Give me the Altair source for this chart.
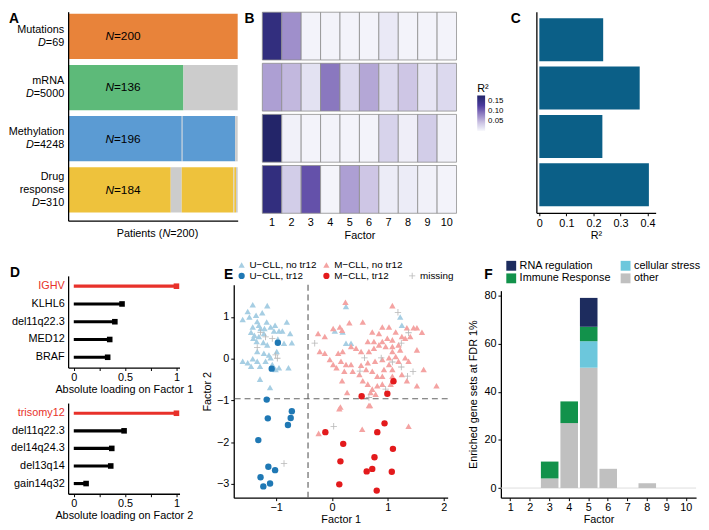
import altair as alt
import pandas as pd

FONT = "Liberation Sans"
RED = "#e8312a"

# ---------------- Panel A data ----------------
views = ["Mutations", "mRNA", "Methylation", "Drug response"]
view_lines = [["Mutations"], ["mRNA"], ["Methylation"], ["Drug", "response"]]
view_D = [69, 5000, 4248, 310]
view_N = [200, 136, 196, 184]
view_colors = ["#e8833a", "#5dba79", "#5b9bd3", "#eec23c"]
missing_color = "#cccccc"
# patient segments per view: (first patient, last patient, observed flag)
segs = {
    "Mutations": [(0, 200, 1)],
    "mRNA": [(0, 136, 1), (136, 200, 0)],
    "Methylation": [(0, 134, 1), (134, 135, 0), (135, 197, 1), (197, 200, 0)],
    "Drug response": [(0, 121, 1), (121, 134, 0), (134, 195, 1), (195, 196, 0), (196, 198, 1), (198, 200, 0)],
}

# ---------------- Panel B data ----------------
factors = list(range(1, 11))
r2_mut = [0.16, 0.075, 0.004, 0.004, 0.004, 0.004, 0.012, 0.004, 0.004, 0.004]
r2_mrna = [0.065, 0.05, 0.018, 0.09, 0.025, 0.06, 0.025, 0.04, 0.015, 0.025]
r2_meth = [0.18, 0.006, 0.004, 0.004, 0.004, 0.004, 0.03, 0.008, 0.035, 0.006]
r2_drug = [0.16, 0.035, 0.115, 0.003, 0.065, 0.04, 0.01, 0.01, 0.006, 0.004]

# ---------------- Panel C data ----------------
r2_total = [0.236, 0.371, 0.233, 0.405]

# ---------------- Panel D data ----------------
d1_feat = ["IGHV", "KLHL6", "del11q22.3", "MED12", "BRAF"]
d1_val = [1.0, 0.47, 0.40, 0.35, 0.33]
d2_feat = ["trisomy12", "del11q22.3", "del14q24.3", "del13q14", "gain14q32"]
d2_val = [1.0, 0.49, 0.37, 0.36, 0.12]

# ---------------- Panel E data ----------------
E_groups = ["U−CLL, no tr12", "M−CLL, no tr12", "_", "U−CLL, tr12", "M−CLL, tr12", "missing"]
E_colors = ["#a6cee3", "#f4a3a2", "transparent", "#1f78b4", "#e31a1c", "#b8b8b8"]
ub_x = [-1.42, -1.16, -1.51, -1.60, -1.48, -1.36, -1.25, -1.34, -1.42, -1.45, -1.31, -1.28, -1.21, -1.17,
        -1.10, -1.02, -0.95, -0.89, -1.04, -0.72, -0.86, -1.16, -1.23, -1.35, -1.41, -1.31, -1.22, -1.60,
        -1.51, -1.42, -1.34, -1.45, -1.29, -1.19, -1.10, -1.07, -0.95, -0.78, -1.01, -1.13, -1.34, -1.22,
        -0.99, -1.29, -1.11, -0.97, -1.39, -0.81, -0.75, 0.25, 0.05, 0.19, 0.25, 0.34, 1.25, 1.22]
ub_y = [1.29, 1.27, 1.13, 0.94, 1.00, 1.04, 1.10, 0.89, 0.76, 0.63, 0.80, 0.72, 0.72, 0.88,
        0.76, 0.80, 0.66, 0.66, 0.66, 0.38, 0.37, 0.33, 0.39, 0.41, 0.49, 0.53, 0.60, -0.06,
        -0.10, 0.00, -0.06, -0.18, -0.18, -0.06, 0.02, -0.14, -0.22, -0.22, -0.26, 0.09, 0.17, 0.13,
        0.17, -0.49, -0.69, 0.47, 0.56, 0.88, 0.60, 1.25, 0.66, 0.64, 0.37, 0.37, 0.80, 1.00]
mp_x = [0.24, 1.08, 0.55, 0.31, 0.14, 0.18, -0.25, -0.13, 0.02, 0.72, 0.84, 0.90, 1.02, 1.14, 1.25, 1.34,
        1.46, 1.52, 1.61, 0.64, 0.75, 0.90, 0.99, 1.08, 1.31, 1.40, 1.52, 1.22, 1.08, 0.96, 0.84, 0.75,
        0.66, 0.52, 0.43, 0.34, 0.19, 0.11, 0.16, 0.02, 0.08, 0.25, 0.34, 0.52, 0.64, 0.77, 0.90, 1.02,
        1.14, 1.31, 1.37, 1.19, 1.08, 0.93, 0.72, 0.61, 0.49, 0.37, 0.22, -0.04, -0.22, -0.13, 0.90, 1.08,
        1.64, 1.87, 1.52, 1.34, 1.25, 0.72, 0.69, 0.78, 0.55, 0.18, 0.27, 0.15, 0.66, 1.37, 0.54, -0.24,
        0.81, 0.90, 1.05, 0.64, 0.81, 1.02, 1.08, 1.19, 0.13, 0.68]
mp_y = [1.35, 1.27, 0.88, 0.86, 0.76, 0.68, 0.60, 0.53, 0.72, 0.64, 0.60, 0.76, 0.76, 0.64, 0.53, 0.74,
        0.74, 0.74, 0.63, 0.41, 0.41, 0.41, 0.49, 0.45, 0.49, 0.53, 0.21, 0.21, 0.29, 0.29, 0.33, 0.25,
        0.17, 0.17, 0.25, 0.29, 0.17, 0.13, -0.06, -0.14, -0.22, -0.14, -0.14, -0.16, -0.10, -0.06, -0.02, 0.02,
        0.05, 0.02, -0.06, -0.06, -0.26, -0.26, -0.30, -0.26, -0.38, -0.30, -0.30, -0.02, 0.17, 0.13, -0.42, -0.42,
        -0.26, -0.65, -0.65, -0.53, -0.38, -0.73, -0.81, -0.85, -0.53, -0.53, -0.81, -1.16, -1.12, -1.62, -1.69, -1.79,
        -0.65, -0.61, -0.61, -0.61, -0.42, -0.14, 0.17, 0.33, -1.20, -1.12]
ut_x = [-0.97, -1.08, -1.17, -0.72, -0.74, -0.79, -1.15, -1.32, -1.14, -1.02, -1.28, -1.23, -1.11]
ut_y = [0.38, -0.24, -0.98, -1.26, -1.42, -1.59, -1.43, -1.95, -2.59, -2.67, -2.84, -3.06, -2.99]
mt_x = [1.10, 0.53, 0.99, 0.94, 0.81, -0.12, 0.20, 1.09, 0.15, 0.76, 0.72, 0.62, 1.07, 0.13, 0.80]
mt_y = [-0.54, -0.90, -0.84, -1.55, -1.76, -1.76, -2.04, -2.16, -2.46, -2.36, -2.64, -2.70, -2.71, -3.01, -3.16]
na_x = [-0.31, 0.58, 0.50, 0.88, 1.08, 1.24, 1.45, 1.35, 0.96, 0.66, 0.03, -0.86, 1.18, 1.37, 1.24,
        -1.19, -1.07, -1.34, -1.01, -1.28, -0.98]
na_y = [0.37, 0.02, -0.30, 0.02, -0.08, -0.20, -0.31, -0.42, -0.73, -0.93, -1.62, -2.51, 1.11, 0.62, 0.37,
        0.52, 0.48, 0.27, 0.09, 0.63, 0.01]
ighv_cut = [-0.43]
tr12_cut = [-0.96]

# ---------------- Panel F data ----------------
F_cats = ["RNA regulation", "cellular stress", "Immune Response", "other"]
F_colors = ["#1d2c5e", "#6cc7dc", "#12924b", "#c0c0c0"]
F_stack = {"other": 0, "cellular stress": 1, "Immune Response": 2, "RNA regulation": 3}
f_other = [0, 0, 4, 27, 50, 8, 0, 2, 0, 0]
f_cell = [0, 0, 0, 0, 11, 0, 0, 0, 0, 0]
f_imm = [0, 0, 7, 9, 6, 0, 0, 0, 0, 0]
f_rna = [0, 0, 0, 0, 12, 0, 0, 0, 0, 0]

# ---------------- helpers ----------------
AW = {" ": 278, "(": 333, ")": 333, "=": 584, ".": 278}
for ch in "0123456789":
    AW[ch] = 556


def textw(s, size):
    return sum(AW.get(c, 556) for c in s) * size / 1000.0


def letter(ch, x, y):
    return alt.Chart(pd.DataFrame({"t": [ch]})).mark_text(
        align="left", baseline="top", fontSize=14, fontWeight="bold", font=FONT
    ).encode(text="t:N", x=alt.value(x), y=alt.value(y))


def spacer(x, y):
    # invisible element that only reserves room in the layout
    return alt.Chart(pd.DataFrame({"t": ["."]})).mark_text(
        align="left", baseline="top", fontSize=6, font=FONT, opacity=0
    ).encode(text="t:N", x=alt.value(x), y=alt.value(y))


def gap(h):
    # empty strip used to offset a panel vertically inside its column
    return alt.Chart(pd.DataFrame({"a": [0]})).mark_point(opacity=0, size=1).encode(
        x=alt.value(0), y=alt.value(0)).properties(width=1, height=h)


AX = dict(tickSize=3, labelPadding=1, titlePadding=1, domainWidth=1.3)

# ---------------- Panel A ----------------
rowsA = []
for v in views:
    for s, e, ok in segs[v]:
        rowsA.append({"view": v, "start": s, "end": e, "key": v if ok else "missing"})
dfA = pd.DataFrame(rowsA)
wA, hA = 172, 212
yA = alt.Y("view:N", sort=views,
           scale=alt.Scale(domain=views, paddingInner=0.115, paddingOuter=0.1, align=0.2),
           axis=alt.Axis(labels=False, ticks=False, title=None, domainColor="black", domainWidth=1.3))
barsA = alt.Chart(dfA).mark_rect().encode(
    x=alt.X("start:Q", scale=alt.Scale(domain=[0, 200], nice=False, zero=False),
            axis=alt.Axis(labels=False, ticks=False, title=None, domainColor="black", domainWidth=1.3)),
    x2="end:Q",
    y=yA,
    color=alt.Color("key:N", scale=alt.Scale(domain=views + ["missing"], range=view_colors + [missing_color]),
                    legend=None),
)
layersA = [barsA]
lh = 13
for v, lines, d in zip(views, view_lines, view_D):
    nl = len(lines) + 1
    for j, ln in enumerate(lines):
        dy = (j - (nl - 1) / 2) * lh
        layersA.append(alt.Chart(pd.DataFrame({"view": [v], "t": [ln]})).mark_text(
            align="right", baseline="middle", dx=-4, dy=dy, fontSize=11, font=FONT).encode(
            y=yA, x=alt.value(0), text="t:N"))
    dy = ((nl - 1) - (nl - 1) / 2) * lh
    eq = "=" + str(d)
    layersA.append(alt.Chart(pd.DataFrame({"view": [v], "t": [eq]})).mark_text(
        align="right", baseline="middle", dx=-4, dy=dy, fontSize=11, font=FONT).encode(
        y=yA, x=alt.value(0), text="t:N"))
    layersA.append(alt.Chart(pd.DataFrame({"view": [v], "t": ["D"]})).mark_text(
        align="right", baseline="middle", dx=-4 - textw(eq, 11), dy=dy, fontSize=11, font=FONT,
        fontStyle="italic").encode(y=yA, x=alt.value(0), text="t:N"))
dfAn = pd.DataFrame({"view": views, "nlab": ["=" + str(n) for n in view_N], "N": ["N"] * 4, "pos": [54] * 4})
layersA.append(alt.Chart(dfAn).mark_text(align="right", baseline="middle", fontSize=12, font=FONT,
                                         fontStyle="italic").encode(y=yA, x="pos:Q", text="N:N"))
layersA.append(alt.Chart(dfAn).mark_text(align="left", baseline="middle", fontSize=12, font=FONT).encode(
    y=yA, x="pos:Q", text="nlab:N"))
# x title "Patients (N=200)"
p1, p2, p3 = "Patients (", "N", "=200)"
tot = textw(p1, 11) + 7.94 + textw(p3, 11)
x0 = -tot / 2
yT = hA + 14
layersA.append(alt.Chart(pd.DataFrame({"pos": [100], "t": [p1]})).mark_text(
    align="right", baseline="middle", fontSize=11, font=FONT, dx=x0 + textw(p1, 11)).encode(
    x="pos:Q", y=alt.value(yT), text="t:N"))
layersA.append(alt.Chart(pd.DataFrame({"pos": [100], "t": [p2]})).mark_text(
    align="left", baseline="middle", fontSize=11, font=FONT, fontStyle="italic", dx=x0 + textw(p1, 11)).encode(
    x="pos:Q", y=alt.value(yT), text="t:N"))
layersA.append(alt.Chart(pd.DataFrame({"pos": [100], "t": [p3]})).mark_text(
    align="left", baseline="middle", fontSize=11, font=FONT, dx=x0 + textw(p1, 11) + 7.94).encode(
    x="pos:Q", y=alt.value(yT), text="t:N"))
layersA.append(letter("A", -60, 0))
chartA = alt.layer(*layersA).properties(width=wA, height=hA)

# ---------------- Panel B ----------------
rowsB = []
for v, vals in zip(views, [r2_mut, r2_mrna, r2_meth, r2_drug]):
    for f, r in zip(factors, vals):
        rowsB.append({"view": v, "factor": f, "r2": r})
dfB = pd.DataFrame(rowsB)
heat = alt.Chart(dfB).mark_rect(stroke="#8c8c8c", strokeWidth=0.8).encode(
    x=alt.X("factor:O", scale=alt.Scale(paddingInner=0, paddingOuter=0),
            axis=alt.Axis(title="Factor", labelAngle=0, ticks=False, domain=False, labelPadding=3, titlePadding=2)),
    y=alt.Y("view:N", sort=views, scale=alt.Scale(domain=views, paddingInner=0.065, paddingOuter=0.01), axis=None),
    color=alt.Color("r2:Q",
                    scale=alt.Scale(domain=[0, 0.045, 0.09, 0.13, 0.18],
                                    range=["#f8f8fc", "#c9c0e2", "#8a78bf", "#4b3a9d", "#232569"]),
                    legend=alt.Legend(orient="none", legendX=218, legendY=72, direction="vertical",
                                      gradientLength=36, gradientThickness=8, title="R²",
                                      titleFontSize=11, titleFontWeight="normal", labelFontSize=8,
                                      values=[0.05, 0.10, 0.15], format=".2f", titlePadding=2,
                                      labelOverlap=False, padding=0, gradientStrokeWidth=0, labelOffset=3)),
)
chartB = alt.layer(heat, letter("B", -18, 0)).properties(width=197, height=205)

# ---------------- Panel C ----------------
dfC = pd.DataFrame({"view": views, "r2": r2_total})
barsC = alt.Chart(dfC).mark_bar(color="#0b5f87").encode(
    x=alt.X("r2:Q", scale=alt.Scale(domain=[-0.011, 0.43], nice=False, zero=False),
            axis=alt.Axis(values=[0, 0.1, 0.2, 0.3, 0.4], format="~g", title="R²", tickSize=3,
                          labelPadding=2, titlePadding=1, domainWidth=1.3)),
    x2=alt.datum(0),
    y=alt.Y("view:N", sort=views, scale=alt.Scale(domain=views, paddingInner=0.11, paddingOuter=0.137),
            axis=alt.Axis(labels=False, ticks=False, title=None, domainWidth=1.3)),
)
chartC = alt.layer(barsC, letter("C", -26, 0)).properties(width=121, height=204)


# ---------------- Panel D ----------------
def lolli(feats, vals, title, top_label):
    df = pd.DataFrame({"feat": feats, "val": vals, "hl": ["top"] + ["rest"] * (len(feats) - 1)})
    y = alt.Y("feat:N", sort=feats, scale=alt.Scale(paddingOuter=0.08, paddingInner=0),
              axis=alt.Axis(title=None, ticks=False, labelPadding=4, domainWidth=1.3,
                            labelColor={"condition": {"test": "datum.value == '%s'" % top_label, "value": RED},
                                        "value": "black"}))
    x = alt.X("val:Q", scale=alt.Scale(domain=[-0.055, 1.03], nice=False, zero=False),
              axis=alt.Axis(values=[0, 0.25, 0.5, 0.75, 1], format="~g", title=title,
                            labelExpr="(datum.value == 0.25 || datum.value == 0.75) ? '' : datum.label", **AX))
    col = alt.Color("hl:N", scale=alt.Scale(domain=["top", "rest"], range=[RED, "black"]), legend=None)
    rule = alt.Chart(df).mark_rule(strokeWidth=3.2).encode(y=y, x=x, x2=alt.datum(0), color=col)
    sq = alt.Chart(df).mark_square(size=32, opacity=1).encode(y=y, x=x, color=col)
    return rule, sq


r1, s1 = lolli(d1_feat, d1_val, "Absolute loading on Factor 1", "IGHV")
r2, s2 = lolli(d2_feat, d2_val, "Absolute loading on Factor 2", "trisomy12")
chartD1 = alt.layer(r1, s1, letter("D", -59, -10)).properties(width=113, height=93)
chartD2 = alt.layer(r2, s2).properties(width=113, height=92)
colD = alt.vconcat(gap(6), chartD1, spacing=0)
colD = alt.vconcat(colD, chartD2, spacing=9)

# ---------------- Panel E ----------------
rowsE = []
for xs, ys, g in [(ub_x, ub_y, E_groups[0]), (mp_x, mp_y, E_groups[1]), (na_x, na_y, E_groups[5]),
                  (ut_x, ut_y, E_groups[3]), (mt_x, mt_y, E_groups[4])]:
    for a, b in zip(xs, ys):
        rowsE.append({"f1": a, "f2": b, "grp": g})
dfE = pd.DataFrame(rowsE)
PLUS = "M-1,-0.13L-0.13,-0.13L-0.13,-1L0.13,-1L0.13,-0.13L1,-0.13L1,0.13L0.13,0.13L0.13,1L-0.13,1L-0.13,0.13L-1,0.13Z"
# legend position is relative to the top of this panel's column
legE = alt.Legend(orient="none", legendX=3, legendY=0, direction="horizontal", columns=3, title=None,
                  labelExpr="datum.label == '_' ? '' : datum.label", symbolSize=40, labelFontSize=10,
                  columnPadding=4, rowPadding=1, padding=0, labelOffset=3, symbolStrokeWidth=0)
xE = alt.X("f1:Q", scale=alt.Scale(domain=[-1.76, 2.07], nice=False, zero=False),
           axis=alt.Axis(values=[-1, 0, 1, 2], format="~g", title="Factor 1", **AX))
yE = alt.Y("f2:Q", scale=alt.Scale(domain=[-3.33, 1.77], nice=False, zero=False),
           axis=alt.Axis(values=[-3, -2, -1, 0, 1], format="~g", title="Factor 2", tickSize=3, labelPadding=2,
                         titlePadding=4, domainWidth=1.3))
ptsE = alt.Chart(dfE).mark_point(filled=True, opacity=1, size=42).encode(
    x=xE, y=yE,
    color=alt.Color("grp:N", scale=alt.Scale(domain=E_groups, range=E_colors), legend=legE),
    shape=alt.Shape("grp:N", scale=alt.Scale(domain=E_groups,
                                             range=["triangle-up", "triangle-up", "circle", "circle", "circle", PLUS]),
                    legend=legE),
)
vline = alt.Chart(pd.DataFrame({"v": ighv_cut})).mark_rule(strokeDash=[6, 4], color="#666666", strokeWidth=1.2).encode(
    x="v:Q")
hline = alt.Chart(pd.DataFrame({"h": tr12_cut})).mark_rule(strokeDash=[6, 4], color="#666666", strokeWidth=1.2).encode(
    y="h:Q")
chartE = alt.layer(vline, hline, ptsE, letter("E", -10, -17)).properties(width=217, height=216)
colE = alt.vconcat(gap(8), chartE, spacing=0)

# ---------------- Panel F ----------------
rowsF = []
for i, f in enumerate(factors):
    for cat, arr in [("other", f_other), ("cellular stress", f_cell), ("Immune Response", f_imm),
                     ("RNA regulation", f_rna)]:
        rowsF.append({"factor": f, "cat": cat, "n": arr[i], "ord": F_stack[cat]})
dfF = pd.DataFrame(rowsF)
legF = alt.Legend(orient="none", legendX=5, legendY=0, direction="horizontal", columns=2, title=None,
                  symbolType="square", symbolSize=100, labelFontSize=11, columnPadding=9, rowPadding=1,
                  padding=0, labelOffset=3, symbolStrokeWidth=0)
xF = alt.X("factor:O", scale=alt.Scale(paddingInner=0.1, paddingOuter=0.05),
           axis=alt.Axis(labelAngle=0, title="Factor", **AX))
barsF = alt.Chart(dfF).mark_bar().encode(
    x=xF,
    y=alt.Y("n:Q", stack="zero", scale=alt.Scale(domain=[-4, 82], nice=False, zero=False),
            axis=alt.Axis(values=[0, 20, 40, 60, 80], title="Enriched gene sets at FDR 1%", tickSize=3,
                          labelPadding=2, titlePadding=5, domainWidth=1.3)),
    color=alt.Color("cat:N", scale=alt.Scale(domain=F_cats, range=F_colors), legend=legF),
    order=alt.Order("ord:Q", sort="ascending"),
)
base0 = alt.Chart(pd.DataFrame({"z": [0]})).mark_rule(color="#dddddd", strokeWidth=1).encode(y="z:Q")
chartF = alt.layer(base0, barsF, letter("F", -17, -23), spacer(-40, 0)).properties(width=198, height=210)
colF = alt.vconcat(gap(8), chartF, spacing=0)

# ---------------- layout ----------------
RES = dict(color="independent", x="independent", y="independent")
row1 = alt.hconcat(chartA, chartB, chartC, spacing=7).resolve_scale(**RES)
row2 = alt.hconcat(colD, colE, colF, spacing=8).resolve_scale(shape="independent", **RES)
chart = alt.vconcat(row1, row2, spacing=19).resolve_scale(shape="independent", **RES).properties(
    padding=0
).configure_view(stroke=None).configure_axis(
    labelFont=FONT, titleFont=FONT, labelFontSize=11, titleFontSize=11, titleFontWeight="normal",
    labelColor="black", titleColor="black", domainColor="black", tickColor="black", grid=False
).configure_legend(labelFont=FONT, titleFont=FONT, labelColor="black", titleColor="black").configure_text(font=FONT)

chart.save("out.html", embed_options={"renderer": "svg", "actions": False})
